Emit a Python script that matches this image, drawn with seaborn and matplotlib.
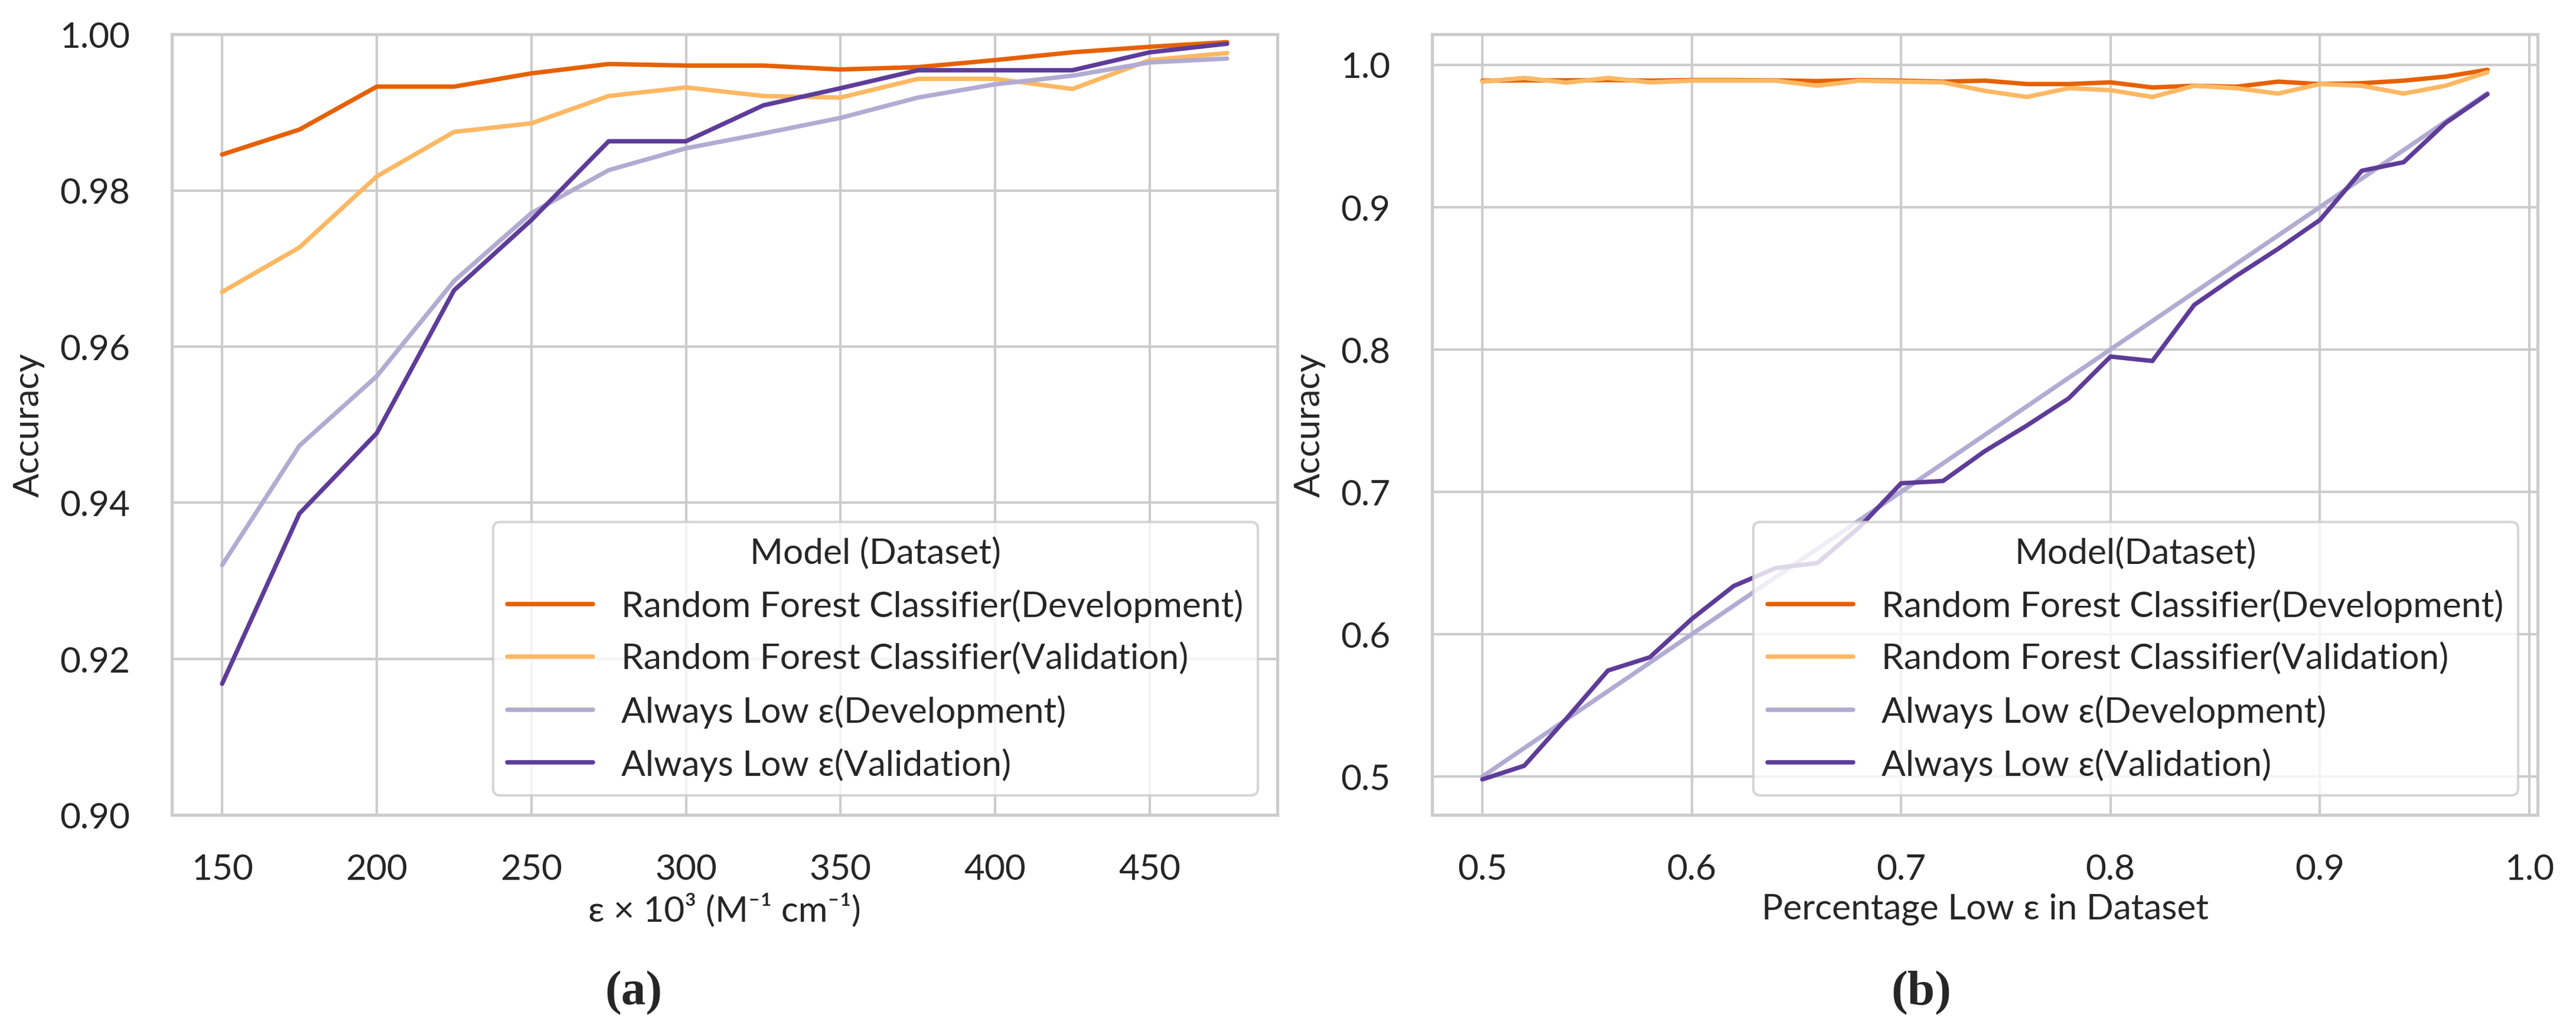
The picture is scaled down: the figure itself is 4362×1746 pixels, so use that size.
#%%
# Bibliotecas
import pandas as pd
import seaborn as sns
import matplotlib.pyplot as plt
from matplotlib.ticker import FormatStrFormatter

# %%
# Dados (a): epsilon x 10^3
eps_x = [150, 175, 200, 225, 250, 275, 300, 325, 350, 375, 400, 425, 450, 475]
rf_dev_a = [0.9846, 0.9878, 0.9933, 0.9933, 0.9950, 0.9962, 0.9960, 0.9960,
            0.9955, 0.9958, 0.9967, 0.9977, 0.9984, 0.9990]
rf_val_a = [0.9670, 0.9727, 0.9818, 0.9875, 0.9886, 0.9921, 0.9932, 0.9921,
            0.9919, 0.9943, 0.9943, 0.9930, 0.9967, 0.9976]
low_dev_a = [0.9320, 0.9473, 0.9562, 0.9684, 0.9771, 0.9826, 0.9854, 0.9873,
             0.9893, 0.9919, 0.9936, 0.9947, 0.9964, 0.9969]
low_val_a = [0.9168, 0.9386, 0.9489, 0.9672, 0.9762, 0.9863, 0.9863, 0.9909,
             0.9931, 0.9954, 0.9954, 0.9954, 0.9977, 0.9988]

# Dados (b): percentual de baixo epsilon
pct_x = [0.50, 0.52, 0.54, 0.56, 0.58, 0.60, 0.62, 0.64, 0.66, 0.68, 0.70, 0.72, 0.74,
         0.76, 0.78, 0.80, 0.82, 0.84, 0.86, 0.88, 0.90, 0.92, 0.94, 0.96, 0.98]
rf_dev_b = [0.9888, 0.9890, 0.9890, 0.9892, 0.9888, 0.9892, 0.9892, 0.9890, 0.9885,
            0.9892, 0.9888, 0.9881, 0.9888, 0.9864, 0.9864, 0.9876, 0.9840, 0.9852,
            0.9845, 0.9881, 0.9864, 0.9870, 0.9888, 0.9916, 0.9964]
rf_val_b = [0.9881, 0.9907, 0.9874, 0.9907, 0.9876, 0.9888, 0.9888, 0.9888, 0.9852,
            0.9888, 0.9881, 0.9876, 0.9816, 0.9773, 0.9835, 0.9821, 0.9773, 0.9852,
            0.9835, 0.9797, 0.9864, 0.9852, 0.9797, 0.9852, 0.9947]
low_dev_b = [0.50, 0.52, 0.54, 0.56, 0.58, 0.60, 0.62, 0.64, 0.66, 0.68, 0.70, 0.72, 0.74,
             0.76, 0.78, 0.80, 0.82, 0.84, 0.86, 0.88, 0.90, 0.92, 0.94, 0.96, 0.98]
low_val_b = [0.4980, 0.5076, 0.5405, 0.5745, 0.5838, 0.6107, 0.6338, 0.6464, 0.6500,
             0.6750, 0.7060, 0.7076, 0.7286, 0.7465, 0.7656, 0.7950, 0.7919, 0.8313,
             0.8516, 0.8706, 0.8909, 0.9255, 0.9315, 0.9590, 0.9792]

modelos = ['Random Forest Classifier(Development)', 'Random Forest Classifier(Validation)',
           'Always Low ε(Development)', 'Always Low ε(Validation)']
cores = ['#e66101', '#fdb863', '#b2abd2', '#5e3c99']


def monta_tabela(x, series):
    partes = []
    for nome, y in zip(modelos, series):
        partes.append(pd.DataFrame({'x': x, 'Accuracy': y, 'Modelo': nome}))
    return pd.concat(partes, ignore_index=True)


dados_a = monta_tabela(eps_x, [rf_dev_a, rf_val_a, low_dev_a, low_val_a])
dados_b = monta_tabela(pct_x, [rf_dev_b, rf_val_b, low_dev_b, low_val_b])

# %%
# Estilo
sns.set_theme(style='whitegrid')
plt.rcParams['font.family'] = ['Lato', 'DejaVu Sans']
tam = 14.5

fig, (ax1, ax2) = plt.subplots(1, 2, figsize=(14.543, 5.823))
fig.subplots_adjust(left=0.0667, right=0.9849, bottom=0.2095, top=0.9662, wspace=0.140)

sns.lineplot(data=dados_a, x='x', y='Accuracy', hue='Modelo', hue_order=modelos,
             palette=cores, linewidth=1.8, ax=ax1)
sns.lineplot(data=dados_b, x='x', y='Accuracy', hue='Modelo', hue_order=modelos,
             palette=cores, linewidth=1.8, ax=ax2)

ax1.set_ylim(0.90, 1.00)
ax1.set_yticks([0.90, 0.92, 0.94, 0.96, 0.98, 1.00])
ax1.yaxis.set_major_formatter(FormatStrFormatter('%.2f'))
ax2.yaxis.set_major_formatter(FormatStrFormatter('%.1f'))
ax2.xaxis.set_major_formatter(FormatStrFormatter('%.1f'))

ax1.set_xlabel('ε × 10³ (M⁻¹ cm⁻¹)', fontsize=tam, labelpad=3)
ax2.set_xlabel('Percentage Low ε in Dataset', fontsize=tam, labelpad=3)
for ax, titulo in [(ax1, 'Model (Dataset)'), (ax2, 'Model(Dataset)')]:
    ax.set_ylabel('Accuracy', fontsize=tam, labelpad=6)
    ax.tick_params(axis='both', labelsize=tam)
    ax.tick_params(axis='y', pad=11)
    ax.tick_params(axis='x', pad=9.5)
    ax.legend(title=titulo, loc='lower right', fontsize=tam, title_fontsize=tam,
              handlelength=2.4, labelspacing=0.55, borderaxespad=0.55)

# Legendas (a) e (b)
fig.text(0.246, 0.037, '(a)', ha='center', va='center', fontsize=20,
         fontweight='bold', family='Liberation Serif')
fig.text(0.7456, 0.037, '(b)', ha='center', va='center', fontsize=20,
         fontweight='bold', family='Liberation Serif')

plt.savefig('out.png', dpi=300)
